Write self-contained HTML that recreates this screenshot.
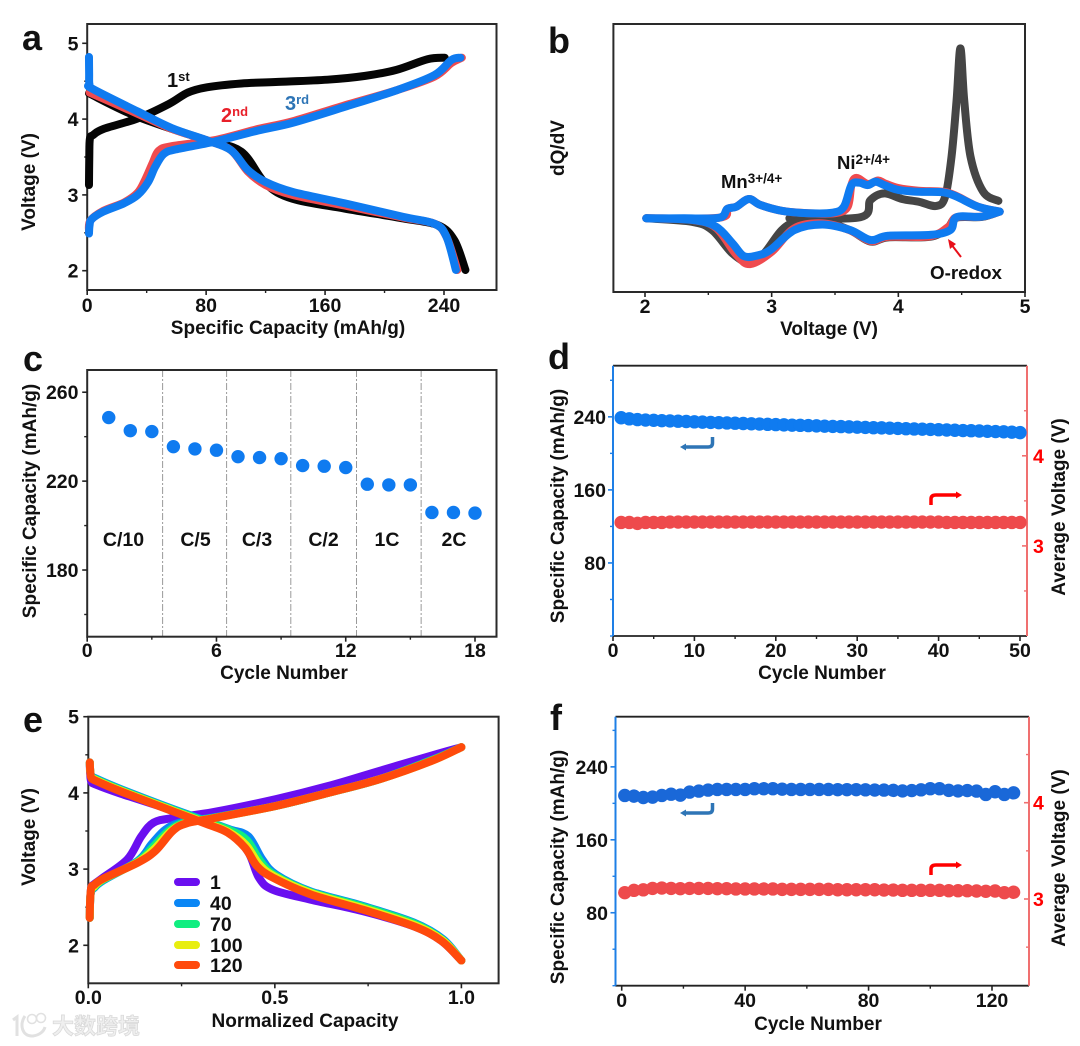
<!DOCTYPE html>
<html lang="en"><head><meta charset="utf-8"><title>Electrochemical performance panels</title>
<style>
html,body{margin:0;padding:0;background:#fff}
svg{display:block}
text{font-family:"Liberation Sans","Noto Sans CJK SC",sans-serif;font-weight:700;fill:#111}
.title{font-size:19px}
.letter{font-size:36px}
.ann{font-size:18.5px}
.band{font-size:19.5px}
.leg{font-size:19.5px}
</style></head><body>
<svg id="fig" width="1080" height="1046" viewBox="0 0 1080 1046" xmlns="http://www.w3.org/2000/svg">
<rect width="1080" height="1046" fill="#fff"/>
<g id="pa"></g>
<g id="pb"></g>
<g id="pc"></g>
<g id="pd"></g>
<g id="pe"></g>
<g id="pf"></g>

<text class="letter" x="22" y="50">a</text>
<text class="letter" x="548" y="53">b</text>
<text class="letter" x="23" y="371">c</text>
<text class="letter" x="548" y="369">d</text>
<text class="letter" x="23" y="732">e</text>
<text class="letter" x="550" y="730">f</text>

<text class="title" x="288" y="334" text-anchor="middle">Specific Capacity (mAh/g)</text>
<text class="title" transform="translate(35,182) rotate(-90)" text-anchor="middle">Voltage (V)</text>
<text class="title" x="829" y="335" text-anchor="middle">Voltage (V)</text>
<text class="title" transform="translate(564,148) rotate(-90)" text-anchor="middle">dQ/dV</text>
<text class="title" x="284" y="679" text-anchor="middle">Cycle Number</text>
<text class="title" transform="translate(36,501) rotate(-90)" text-anchor="middle">Specific Capacity (mAh/g)</text>
<text class="title" x="822" y="679" text-anchor="middle">Cycle Number</text>
<text class="title" transform="translate(564,506) rotate(-90)" text-anchor="middle">Specific Capacity (mAh/g)</text>
<text class="title" transform="translate(1065,507) rotate(-90)" text-anchor="middle">Average Voltage (V)</text>
<text class="title" x="305" y="1027" text-anchor="middle">Normalized Capacity</text>
<text class="title" transform="translate(35,837) rotate(-90)" text-anchor="middle">Voltage (V)</text>
<text class="title" x="818" y="1030" text-anchor="middle">Cycle Number</text>
<text class="title" transform="translate(564,867) rotate(-90)" text-anchor="middle">Specific Capacity (mAh/g)</text>
<text class="title" transform="translate(1065,858) rotate(-90)" text-anchor="middle">Average Voltage (V)</text>

<text class="ann" x="167" y="87" style="font-size:20px">1<tspan dy="-6" font-size="13">st</tspan></text>
<text class="ann" x="221" y="122" style="font-size:20px;fill:#e8202a">2<tspan dy="-6" font-size="13">nd</tspan></text>
<text class="ann" x="285" y="110" style="font-size:20px;fill:#2e75b6">3<tspan dy="-6" font-size="13">rd</tspan></text>

<text class="ann" x="721" y="188">Mn<tspan dy="-5" font-size="13.5">3+/4+</tspan></text>
<text class="ann" x="837" y="169">Ni<tspan dy="-5" font-size="13.5">2+/4+</tspan></text>
<text class="ann" x="930" y="279" style="font-size:18.8px">O-redox</text>
<g stroke="#e8101a" fill="#e8101a">
  <line x1="961" y1="257" x2="951" y2="244" stroke-width="2"/>
  <polygon points="948,239 956,244 950,249" stroke="none"/>
</g>

<g>
<text class="band" x="123.5" y="546" text-anchor="middle">C/10</text>
<text class="band" x="195.5" y="546" text-anchor="middle">C/5</text>
<text class="band" x="257" y="546" text-anchor="middle">C/3</text>
<text class="band" x="323.5" y="546" text-anchor="middle">C/2</text>
<text class="band" x="387" y="546" text-anchor="middle">1C</text>
<text class="band" x="454" y="546" text-anchor="middle">2C</text>
</g>

<g fill="none" stroke-width="3.5">
  <path d="M712.5 437 V443 Q712.5 447 708 447 H684" stroke="#2e75b6"/>
  <polygon points="680,447 686,443.5 686,450.5" fill="#2e75b6" stroke="none"/>
  <path d="M931 505 V499 Q931 495 936 495 H958" stroke="#f00"/>
  <polygon points="962,495 956,491.5 956,498.5" fill="#f00" stroke="none"/>
</g>
<g fill="none" stroke-width="3.5">
  <path d="M712.5 803 V809 Q712.5 813 708 813 H684" stroke="#2e75b6"/>
  <polygon points="680,813 686,809.5 686,816.5" fill="#2e75b6" stroke="none"/>
  <path d="M931 875 V869 Q931 865 936 865 H958" stroke="#f00"/>
  <polygon points="962,865 956,861.5 956,868.5" fill="#f00" stroke="none"/>
</g>

<g>
  <g id="legendSw"></g>
  <text class="leg" x="210" y="889">1</text>
  <text class="leg" x="210" y="910">40</text>
  <text class="leg" x="210" y="931">70</text>
  <text class="leg" x="210" y="952">100</text>
  <text class="leg" x="210" y="972">120</text>
</g>

<g opacity="0.9">
  <path d="M13 1020 L17 1017 V1036 M25 1016 C19 1024 22 1037 33 1036 C40 1035 44 1031 45 1027" fill="none" stroke="#dedede" stroke-width="3"/>
  <circle cx="32" cy="1019" r="4.5" fill="none" stroke="#dedede" stroke-width="1.6"/>
  <circle cx="41" cy="1018" r="4.5" fill="none" stroke="#dedede" stroke-width="1.6"/>
  <text x="52" y="1034" style="font-size:22px;font-weight:700;fill:#eee;stroke:#d6d6d6;stroke-width:.8">大数跨境</text>
</g>
</svg>
<script>
// ---- panel a: capacity (mAh/g) vs voltage (V)
const aCycle1Charge=[[1.2,3.13],[1.4,3.5],[1.8,3.74],[4,3.79],[10.9,3.87],[34.1,4.01],[55,4.20],[67.7,4.35],[80.5,4.42],[103.7,4.47],[126.8,4.49],[161.6,4.52],[187,4.57],[208,4.65],[228.9,4.79],[240.5,4.81]];
const aCycle1Discharge=[[1.2,4.34],[34,4.03],[80.5,3.72],[103.7,3.57],[120,3.15],[138,2.95],[173,2.82],[212.6,2.69],[236,2.60],[247,2.40],[254.4,2.01]];
const aCycle2Charge=[[1.2,2.52],[2.1,2.66],[10.9,2.79],[24.8,2.90],[34,3.03],[39,3.2],[44,3.42],[48,3.58],[56,3.64],[85,3.72],[115,3.87],[138,3.97],[173,4.18],[208,4.38],[233.5,4.56],[245,4.74],[252,4.81]];
const aCycle2Discharge=[[1.6,4.35],[34,4.07],[57,3.87],[80.5,3.72],[96.7,3.59],[108,3.31],[120,3.13],[138,3.00],[173,2.86],[212.6,2.70],[233.5,2.62],[241.6,2.45],[249,2.01]];
const aCycle3Charge=[[1.2,2.49],[1.6,2.6],[3,2.68],[10.9,2.78],[24.8,2.89],[34,3.0],[41,3.17],[45.7,3.37],[51.5,3.54],[59.6,3.60],[85,3.70],[115,3.85],[138,3.95],[173,4.16],[208,4.38],[233.5,4.58],[245,4.78],[251,4.81]];
const aCycle3Discharge=[[1.2,4.82],[1.3,4.6],[1.5,4.46],[3.5,4.40],[34,4.10],[57,3.88],[80.5,3.72],[96.7,3.59],[108,3.33],[120,3.17],[138,3.04],[173,2.89],[212.6,2.71],[233.5,2.62],[241.6,2.45],[248,2.01]];
const aXTicks=[0,80,160,240], aXMinor=[40,120,200], aYTicks=[2,3,4,5], aYMinor=[2.5,3.5,4.5];
// ---- panel b: voltage vs dQ/dV (arbitrary units 0-100)
const bCycle1Charge=[[3.14,27.5],[3.70,27.9],[3.78,34.3],[3.89,36.8],[4.03,34.7],[4.16,33.7],[4.30,32.1],[4.37,35.6],[4.42,50.5],[4.46,71.6],[4.49,90.9],[4.52,71.6],[4.57,50.5],[4.67,37.4],[4.79,34]];
const bCycle1Discharge=[[4.80,30],[4.66,28],[4.46,27.7],[4.39,24],[4.25,20.6],[3.92,20.4],[3.78,18.8],[3.62,23],[3.40,26.5],[3.2,26.2],[3.08,23.1],[2.94,14.4],[2.83,10.7],[2.69,14.4],[2.53,23.1],[2.37,26.2],[2.01,27.5]];
const bCycle2Charge=[[2.01,27.5],[2.585,27.7],[2.65,31],[2.72,31.8],[2.82,34.7],[2.91,32.5],[3.08,30.3],[3.29,29.4],[3.5,29.4],[3.6,31.8],[3.63,40],[3.67,42.6],[3.76,40.3],[3.84,41.6],[3.89,40.6],[4.0,38.8],[4.16,37.8],[4.355,37.4],[4.46,35.8],[4.63,31.8],[4.80,30]];
const bCycle2Discharge=[[4.80,30],[4.655,28.1],[4.46,27.9],[4.40,24.5],[4.25,20.8],[3.92,20.6],[3.78,19],[3.62,23],[3.40,25.6],[3.18,23.8],[3.0,15],[2.83,10.4],[2.72,14],[2.56,24],[2.37,26.9],[2.01,27.5]];
const bCycle3Charge=[[2.01,27.5],[2.3,27.5],[2.585,27.7],[2.65,31],[2.72,31.8],[2.82,34.7],[2.91,32.5],[3.08,30.3],[3.29,29.4],[3.48,29.6],[3.57,31.8],[3.63,39.9],[3.69,40.8],[3.76,39.9],[3.82,41.2],[3.89,39.9],[4.0,38.1],[4.16,37.4],[4.355,37.2],[4.46,35.6],[4.63,31.8],[4.80,30]];
const bCycle3Discharge=[[4.80,30],[4.655,28.1],[4.46,27.9],[4.41,23.1],[4.25,21.3],[3.92,21],[3.78,19.4],[3.62,23.1],[3.40,25.2],[3.18,23.1],[2.99,15.7],[2.885,13.6],[2.78,13.4],[2.69,18.2],[2.56,24.4],[2.37,26.9],[2.01,27.5]];
const bXTicks=[2,3,4,5], bXMinor=[2.5,3.5,4.5];
// ---- panel c: rate capability
const cCycles=[1,2,3,4,5,6,7,8,9,10,11,12,13,14,15,16,17,18];
const cCapacity=[248.6,242.7,242.3,235.5,234.5,233.9,231,230.6,230.1,227,226.7,226.1,218.6,218.3,218.3,205.9,205.9,205.6];
const cRateBoundaries=[3.5,6.47,9.45,12.5,15.5];
const cXTicks=[0,6,12,18], cXMinor=[3,9,15], cYTicks=[180,220,260], cYMinor=[160,200,240];
// ---- panel d: 50-cycle stability
const dCapacity=[239.0,237.8,237.0,236.5,236.2,235.8,235.5,235.2,234.9,234.5,234.2,233.9,233.6,233.3,233.0,232.7,232.4,232.1,231.8,231.5,231.2,230.9,230.7,230.4,230.1,229.8,229.5,229.3,229.0,228.7,228.4,228.1,227.9,227.6,227.3,227.0,226.7,226.5,226.2,225.9,225.6,225.3,225.0,224.8,224.5,224.2,223.9,223.6,223.2,222.7];
const dVoltage=[3.26,3.26,3.25,3.26,3.26,3.26,3.265,3.265,3.265,3.265,3.265,3.265,3.265,3.265,3.265,3.265,3.265,3.265,3.265,3.265,3.265,3.265,3.265,3.265,3.265,3.265,3.265,3.265,3.265,3.265,3.265,3.265,3.265,3.265,3.265,3.265,3.265,3.265,3.265,3.265,3.26,3.26,3.26,3.26,3.26,3.26,3.26,3.26,3.26,3.26];
const dXTicks=[0,10,20,30,40,50], dXMinor=[5,15,25,35,45], dLeftTicks=[80,160,240], dLeftMinor=[0,40,120,200,280], dRightTicks=[3,4], dRightMinor=[2.5,3.5,4.5];
// ---- panel e: normalized curves per cycle
const eCharge1=[[0.004,2.36],[0.005,2.6],[0.008,2.76],[0.015,2.8],[0.04,2.89],[0.105,3.13],[0.142,3.43],[0.175,3.61],[0.226,3.67],[0.337,3.75],[0.504,3.92],[0.643,4.09],[0.781,4.29],[0.92,4.49],[1,4.60]];
const eDischarge1=[[0.004,4.38],[0.005,4.25],[0.008,4.15],[0.02,4.11],[0.087,3.99],[0.226,3.77],[0.318,3.62],[0.38,3.49],[0.429,3.22],[0.457,2.89],[0.494,2.73],[0.595,2.60],[0.734,2.45],[0.872,2.25],[0.946,2.06],[1,1.80]];
const eCharge40=[[0.004,2.36],[0.005,2.6],[0.008,2.71],[0.015,2.75],[0.04,2.85],[0.133,3.11],[0.17,3.33],[0.207,3.52],[0.253,3.62],[0.337,3.68],[0.504,3.83],[0.643,4.0],[0.781,4.18],[0.92,4.43],[1,4.60]];
const eDischarge40=[[0.004,4.4],[0.005,4.3],[0.008,4.23],[0.02,4.19],[0.087,4.05],[0.226,3.79],[0.318,3.63],[0.38,3.52],[0.429,3.43],[0.466,3.13],[0.503,2.93],[0.595,2.71],[0.734,2.52],[0.872,2.30],[0.951,2.08],[1,1.80]];
const eCharge70=[[0.004,2.36],[0.005,2.6],[0.008,2.72],[0.015,2.76],[0.04,2.86],[0.133,3.10],[0.175,3.3],[0.215,3.5],[0.258,3.61],[0.337,3.675],[0.504,3.83],[0.643,4.0],[0.781,4.18],[0.92,4.43],[1,4.60]];
const eDischarge70=[[0.004,4.4],[0.005,4.3],[0.008,4.22],[0.02,4.18],[0.087,4.04],[0.226,3.78],[0.318,3.62],[0.38,3.51],[0.425,3.38],[0.462,3.1],[0.5,2.92],[0.595,2.70],[0.734,2.51],[0.872,2.29],[0.95,2.07],[1,1.80]];
const eCharge100=[[0.004,2.36],[0.005,2.6],[0.008,2.74],[0.015,2.77],[0.04,2.87],[0.133,3.09],[0.178,3.27],[0.22,3.49],[0.26,3.6],[0.337,3.67],[0.504,3.83],[0.643,4.0],[0.781,4.18],[0.92,4.42],[1,4.60]];
const eDischarge100=[[0.004,4.4],[0.005,4.3],[0.008,4.21],[0.02,4.17],[0.087,4.03],[0.226,3.77],[0.318,3.6],[0.375,3.49],[0.422,3.32],[0.457,3.07],[0.497,2.91],[0.595,2.69],[0.734,2.49],[0.872,2.27],[0.948,2.07],[1,1.80]];
const eCharge120=[[0.0037,2.36],[0.005,2.6],[0.008,2.76],[0.015,2.79],[0.04,2.875],[0.133,3.085],[0.18,3.24],[0.226,3.50],[0.263,3.60],[0.337,3.67],[0.504,3.83],[0.643,4.0],[0.781,4.18],[0.92,4.42],[1,4.60]];
const eDischarge120=[[0.004,4.40],[0.005,4.3],[0.008,4.2],[0.02,4.16],[0.087,4.02],[0.226,3.76],[0.318,3.59],[0.373,3.48],[0.42,3.28],[0.452,3.04],[0.494,2.89],[0.595,2.67],[0.734,2.47],[0.872,2.25],[0.946,2.06],[1,1.80]];
const eXTicks=[0,0.5,1], eXMinor=[0.25,0.75], eYTicks=[2,3,4,5], eYMinor=[2.5,3.5,4.5];
// ---- panel f: long-term cycling
const fCycles=[1,4,7,10,13,16,19,22,25,28,31,34,37,40,43,46,49,52,55,58,61,64,67,70,73,76,79,82,85,88,91,94,97,100,103,106,109,112,115,118,121,124,127];
const fCapacity=[208.6,207.9,206.4,206.8,208.6,210,209,212.3,213.4,214.5,215.2,215.2,215.2,215.2,216,216,216,215.5,215.2,215.2,215.2,215.2,215.2,215,215,215,214.8,214.6,214.5,214.2,213.6,214,214.8,216,216,214.2,213.6,214,213.4,209.7,212.7,209.7,211.5];
const fVoltage=[3.066,3.09,3.095,3.11,3.114,3.11,3.107,3.11,3.11,3.11,3.107,3.107,3.104,3.104,3.104,3.104,3.104,3.1,3.1,3.1,3.1,3.1,3.1,3.096,3.096,3.096,3.096,3.096,3.093,3.093,3.09,3.09,3.09,3.09,3.09,3.086,3.086,3.086,3.083,3.08,3.083,3.066,3.07];
const fXTicks=[0,40,80,120], fXMinor=[20,60,100], fLeftTicks=[80,160,240], fLeftMinor=[0,40,120,200,280], fRightTicks=[3,4], fRightMinor=[2.5,3.5,4.5];

const NS='http://www.w3.org/2000/svg';
const linear=(d0,d1,r0,r1)=>v=>r0+(v-d0)*(r1-r0)/(d1-d0);
function make(parent,tag,attrs,name){
  const el=document.createElementNS(NS,tag);
  for(const k in attrs) el.setAttribute(k,attrs[k]);
  
  
  parent.appendChild(el);
  return el;
}
function label(parent,x,y,str,anchor,fill,name){
  const t=make(parent,'text',{x:x,y:y,'text-anchor':anchor,style:'font-size:19.5px;fill:'+fill},name);
  t.textContent=str;
  return t;
}
function curvePath(pts,sx,sy){
  const p=pts.map(q=>[sx(q[0]),sy(q[1])]);
  let d='M'+p[0][0].toFixed(2)+' '+p[0][1].toFixed(2);
  for(let i=0;i<p.length-1;i++){
    const a=p[i-1]||p[i],b=p[i],c=p[i+1],e=p[i+2]||c;
    d+=' C'+(b[0]+(c[0]-a[0])/6).toFixed(2)+' '+(b[1]+(c[1]-a[1])/6).toFixed(2)+' '+(c[0]-(e[0]-b[0])/6).toFixed(2)+' '+(c[1]-(e[1]-b[1])/6).toFixed(2)+' '+c[0].toFixed(2)+' '+c[1].toFixed(2);
  }
  return d;
}
function curve(g,pts,sx,sy,color,width,name){
  make(g,'path',{d:curvePath(pts,sx,sy),fill:'none',stroke:color,'stroke-width':width,'stroke-linecap':'round','stroke-linejoin':'round'},name);
}
function xAxis(g,sx,y,ticks,minor,fmt,labelY,p){
  ticks.forEach(v=>{
    make(g,'line',{x1:sx(v),x2:sx(v),y1:y,y2:y+5,stroke:'#222','stroke-width':1.6},p+'-x-tick');
    label(g,sx(v),labelY,fmt(v),'middle','#111',p+'-x-tick-label');
  });
  minor.forEach(v=>{
    make(g,'line',{x1:sx(v),x2:sx(v),y1:y,y2:y+3,stroke:'#222','stroke-width':1.4},p+'-x-minor-tick');
  });
}
function yAxis(g,sy,x,dir,ticks,minor,labelX,anchor,tickColor,textColor,p){
  ticks.forEach(v=>{
    make(g,'line',{x1:x,x2:x+dir*5,y1:sy(v),y2:sy(v),stroke:tickColor,'stroke-width':1.6},p+'-tick');
    label(g,labelX,sy(v)+7,String(v),anchor,textColor,p+'-tick-label');
  });
  minor.forEach(v=>{
    make(g,'line',{x1:x,x2:x+dir*3,y1:sy(v),y2:sy(v),stroke:tickColor,'stroke-width':1.4},p+'-minor-tick');
  });
}
function frame(g,l,t,r,b,p){
  make(g,'rect',{x:l,y:t,width:r-l,height:b-t,fill:'none',stroke:'#2a2a2a','stroke-width':2},p+'-frame');
}
function dualFrame(g,l,t,r,b,p){
  make(g,'line',{x1:l,x2:r,y1:t,y2:t,stroke:'#222','stroke-width':1.8},p+'-top-axis');
  make(g,'line',{x1:l,x2:r,y1:b,y2:b,stroke:'#222','stroke-width':1.8},p+'-bottom-axis');
  make(g,'line',{x1:l,x2:l,y1:t,y2:b,stroke:'#1e7fe6','stroke-width':2},p+'-left-axis');
  make(g,'line',{x1:r,x2:r,y1:t,y2:b,stroke:'#f07070','stroke-width':2},p+'-right-axis');
}
const str=v=>String(v);
const BLUE='#0f7bf0', RED='#ee4a4c', DARK='#050505';

// Panel a
(function(){
  const g=document.getElementById('pa');
  const sx=linear(0,240,87.2,444), sy=linear(2,5,270.7,43.3);
  frame(g,87.2,24,496.5,290,'panel-a');
  xAxis(g,sx,290,aXTicks,aXMinor,str,312,'panel-a');
  yAxis(g,sy,87.2,-1,aYTicks,aYMinor,78.5,'end','#222','#111','panel-a-y');
  curve(g,aCycle1Charge,sx,sy,DARK,8,'cycle-1-charge-curve');
  curve(g,aCycle1Discharge,sx,sy,DARK,8,'cycle-1-discharge-curve');
  curve(g,aCycle2Charge,sx,sy,'#ef4b4f',8,'cycle-2-charge-curve');
  curve(g,aCycle2Discharge,sx,sy,'#ef4b4f',8,'cycle-2-discharge-curve');
  curve(g,aCycle3Charge,sx,sy,BLUE,8,'cycle-3-charge-curve');
  curve(g,aCycle3Discharge,sx,sy,BLUE,8,'cycle-3-discharge-curve');
})();

// Panel b
(function(){
  const g=document.getElementById('pb');
  const sx=linear(2,5,645,1025), sy=linear(0,100,292,24);
  frame(g,613.4,24,1025,292,'panel-b');
  xAxis(g,sx,292,bXTicks,bXMinor,str,313,'panel-b');
  curve(g,bCycle1Charge,sx,sy,'#454545',8,'cycle-1-charge-dqdv');
  curve(g,bCycle1Discharge,sx,sy,'#454545',8,'cycle-1-discharge-dqdv');
  curve(g,bCycle2Charge,sx,sy,'#ef4b4f',8,'cycle-2-charge-dqdv');
  curve(g,bCycle2Discharge,sx,sy,'#ef4b4f',8,'cycle-2-discharge-dqdv');
  curve(g,bCycle3Charge,sx,sy,BLUE,8,'cycle-3-charge-dqdv');
  curve(g,bCycle3Discharge,sx,sy,BLUE,8,'cycle-3-discharge-dqdv');
})();

// Panel c
(function(){
  const g=document.getElementById('pc');
  const sx=linear(0,18,87.2,475), sy=linear(150,270,636.7,370);
  cRateBoundaries.forEach(v=>{
    make(g,'line',{x1:sx(v),x2:sx(v),y1:370,y2:636.7,stroke:'#9a9a9a','stroke-width':1,'stroke-dasharray':'7 2 2 2'},'rate-boundary-line');
  });
  frame(g,87.2,370,496.5,636.7,'panel-c');
  xAxis(g,sx,636.7,cXTicks,cXMinor,str,657,'panel-c');
  yAxis(g,sy,87.2,-1,cYTicks,cYMinor,78.5,'end','#222','#111','panel-c-y');
  cCapacity.forEach((v,i)=>{
    make(g,'circle',{cx:sx(cCycles[i]),cy:sy(v),r:6.7,fill:BLUE},'capacity-point');
  });
})();

// Panel d
(function(){
  const g=document.getElementById('pd');
  const sx=linear(0,50,613,1020), sL=linear(0,296,636,365.7), sR=linear(2,5,636,365.7);
  dualFrame(g,613,365.7,1027,636,'panel-d');
  xAxis(g,sx,636,dXTicks,dXMinor,str,657,'panel-d');
  yAxis(g,sL,613,-1,dLeftTicks,dLeftMinor,606,'end','#1e7fe6','#111','panel-d-left-y');
  yAxis(g,sR,1027,-1,dRightTicks,dRightMinor,1033,'start','#f07070','#f00','panel-d-right-y');
  dVoltage.forEach((v,i)=>{
    make(g,'circle',{cx:sx(i+1),cy:sR(v),r:6.7,fill:RED},'average-voltage-point');
  });
  dCapacity.forEach((v,i)=>{
    make(g,'circle',{cx:sx(i+1),cy:sL(v),r:6.7,fill:BLUE},'capacity-point');
  });
})();

// Panel e
(function(){
  const g=document.getElementById('pe');
  const sx=linear(0,1,88.3,461.4), sy=linear(2,5,945.3,716.7);
  frame(g,88.3,716.7,498.6,983.3,'panel-e');
  xAxis(g,sx,983.3,eXTicks,eXMinor,v=>v.toFixed(1),1004,'panel-e');
  yAxis(g,sy,88.3,-1,eYTicks,eYMinor,79,'end','#222','#111','panel-e-y');
  curve(g,eCharge1,sx,sy,'#6a0ff0',8,'cycle-1-charge-curve');
  curve(g,eDischarge1,sx,sy,'#6a0ff0',8,'cycle-1-discharge-curve');
  curve(g,eCharge40,sx,sy,'#0a86f5',8,'cycle-40-charge-curve');
  curve(g,eDischarge40,sx,sy,'#0a86f5',8,'cycle-40-discharge-curve');
  curve(g,eCharge70,sx,sy,'#10ee80',8,'cycle-70-charge-curve');
  curve(g,eDischarge70,sx,sy,'#10ee80',8,'cycle-70-discharge-curve');
  curve(g,eCharge100,sx,sy,'#e8ee10',8,'cycle-100-charge-curve');
  curve(g,eDischarge100,sx,sy,'#e8ee10',8,'cycle-100-discharge-curve');
  curve(g,eCharge120,sx,sy,'#ff4a0c',8,'cycle-120-charge-curve');
  curve(g,eDischarge120,sx,sy,'#ff4a0c',8,'cycle-120-discharge-curve');
  const sw=document.getElementById('legendSw');
  make(sw,'line',{x1:178,x2:196,y1:882,y2:882,stroke:'#6a0ff0','stroke-width':8,'stroke-linecap':'round'},'legend-swatch-1');
  make(sw,'line',{x1:178,x2:196,y1:903,y2:903,stroke:'#0a86f5','stroke-width':8,'stroke-linecap':'round'},'legend-swatch-40');
  make(sw,'line',{x1:178,x2:196,y1:924,y2:924,stroke:'#10ee80','stroke-width':8,'stroke-linecap':'round'},'legend-swatch-70');
  make(sw,'line',{x1:178,x2:196,y1:945,y2:945,stroke:'#e8ee10','stroke-width':8,'stroke-linecap':'round'},'legend-swatch-100');
  make(sw,'line',{x1:178,x2:196,y1:965,y2:965,stroke:'#ff4a0c','stroke-width':8,'stroke-linecap':'round'},'legend-swatch-120');
})();

// Panel f
(function(){
  const g=document.getElementById('pf');
  const sx=linear(0,120,621.7,992), sL=linear(0,295,985.7,716.7), sR=linear(3,4,899,802.7);
  dualFrame(g,615.5,716.7,1029,985.7,'panel-f');
  xAxis(g,sx,985.7,fXTicks,fXMinor,str,1007,'panel-f');
  yAxis(g,sL,615.5,-1,fLeftTicks,fLeftMinor,608,'end','#1e7fe6','#111','panel-f-left-y');
  yAxis(g,sR,1029,-1,fRightTicks,fRightMinor,1033,'start','#f07070','#f00','panel-f-right-y');
  fVoltage.forEach((v,i)=>{
    make(g,'circle',{cx:sx(fCycles[i]),cy:sR(v),r:6.7,fill:RED},'average-voltage-point');
  });
  fCapacity.forEach((v,i)=>{
    make(g,'circle',{cx:sx(fCycles[i]),cy:sL(v),r:6.7,fill:'#1a68d8'},'capacity-point');
  });
})();
</script>
</body></html>
